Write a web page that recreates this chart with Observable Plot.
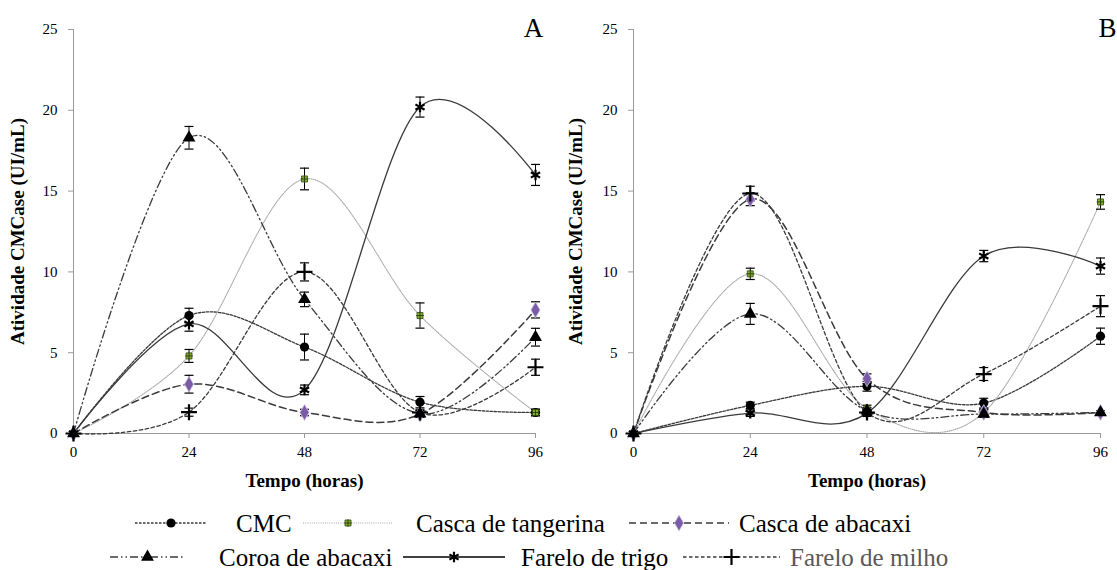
<!DOCTYPE html>
<html>
<head>
<meta charset="utf-8">
<script src="https://cdn.jsdelivr.net/npm/d3@7"></script>
<script src="https://cdn.jsdelivr.net/npm/@observablehq/plot@0.6"></script>
<style>
  html, body { margin: 0; padding: 0; background: #fff; }
  #wrap { position: relative; width: 1117px; height: 570px; overflow: hidden; }
  #a { position: absolute; left: 0; top: 0; }
  #b { position: absolute; left: 558px; top: 0; }
  #legend { position: absolute; left: 0; top: 495px; }
  #wrap svg, #wrap svg text { font-family: "Liberation Serif", "Times New Roman", serif !important; }
</style>
</head>
<body>
<div id="wrap">
  <div id="a"></div>
  <div id="b"></div>
  <svg id="legend" width="1117" height="75"></svg>
</div>
<script>
// ---------------- data ----------------
const hours = [0, 24, 48, 72, 96];
const yTicks = [0, 5, 10, 15, 20, 25];
const seriesNames = ["CMC", "Casca de tangerina", "Casca de abacaxi", "Coroa de abacaxi", "Farelo de trigo", "Farelo de milho"];
const xTitle = "Tempo (horas)";
const yTitle = "Atividade CMCase (UI/mL)";

// Panel A
const cmcA = [0, 7.3, 5.35, 1.94, 1.3];
const cmcAErr = [0, 0.45, 0.8, 0.35, 0.2];
const tangerinaA = [0, 4.8, 15.75, 7.3, 1.3];
const tangerinaAErr = [0, 0.4, 0.67, 0.78, 0.2];
const abacaxiA = [0, 3.05, 1.3, 1.2, 7.65];
const abacaxiAErr = [0, 0.55, 0.2, 0.2, 0.5];
const coroaA = [0, 18.3, 8.3, 1.22, 5.96];
const coroaAErr = [0, 0.7, 0.45, 0.2, 0.55];
const trigoA = [0, 6.78, 2.7, 20.2, 16.0];
const trigoAErr = [0, 0.45, 0.3, 0.62, 0.65];
const milhoA = [0, 1.32, 10.0, 1.3, 4.1];
const milhoAErr = [0, 0.25, 0.56, 0.2, 0.5];

// Panel B
const cmcB = [0, 1.74, 2.92, 1.88, 6.02];
const cmcBErr = [0, 0.2, 0.3, 0.3, 0.5];
const tangerinaB = [0, 9.88, 1.55, 1.3, 14.33];
const tangerinaBErr = [0, 0.35, 0.2, 0.2, 0.45];
const abacaxiB = [0, 14.5, 3.39, 1.3, 1.3];
const abacaxiBErr = [0, 0.4, 0.3, 0.2, 0.1];
const coroaB = [0, 7.4, 1.4, 1.2, 1.3];
const coroaBErr = [0, 0.65, 0.2, 0.2, 0.1];
const trigoB = [0, 1.26, 1.26, 10.98, 10.36];
const trigoBErr = [0, 0.2, 0.2, 0.35, 0.5];
const milhoB = [0, 14.85, 1.3, 3.68, 7.88];
const milhoBErr = [0, 0.45, 0.2, 0.4, 0.65];

// ---------------- styles ----------------
const SERIF = "Liberation Serif";
const GREEN = "#7fae2e", PURPLE = "#7a5ca6", LINE = "#3a3a3a";
const styles = [
  {stroke: LINE, width: 1.3, dash: "2.5,1.5", symbol: "circle", r: 4.6, fill: "#000", mstroke: "none"},
  {stroke: "#a8a8a8", width: 1.1, dash: "1,1.2", symbol: "square", r: 3.4, fill: GREEN, mstroke: "#334a10", plus: true},
  {stroke: LINE, width: 1.5, dash: "7,4", symbol: "diamond", r: 4.8, fill: PURPLE, mstroke: "#cfc4e4"},
  {stroke: LINE, width: 1.3, dash: "8,3,1.5,3,1.5,3", symbol: "triangle", r: 4.8, fill: "#000", mstroke: "none"},
  {stroke: LINE, width: 1.3, dash: null, symbol: "asterisk", r: 5, fill: "none", mstroke: "#000", msw: 2.2},
  {stroke: LINE, width: 1.3, dash: "3.5,2.5", symbol: "plus", r: 5.2, fill: "none", mstroke: "#000", msw: 2.2}
];

const capSymbol = {
  draw(context, size) {
    const w = Math.sqrt(size / Math.PI);
    context.moveTo(-w, 0);
    context.lineTo(w, 0);
  }
};

function buildRows(values, errors) {
  return values.map((vals, i) => vals.map((v, j) => ({series: seriesNames[i], t: hours[j], v, e: errors[i][j]})));
}

function panel(values, errors, letter, letterDx, width, ml, mr) {
  const groups = buildRows(values, errors);
  const marks = [
    Plot.ruleX([0], {stroke: "#9a9a9a"}),
    Plot.ruleY([0], {stroke: "#9a9a9a"}),
    Plot.axisY({ticks: yTicks, tickSize: 5, tickPadding: 11, stroke: "#9a9a9a", fill: "#000", fontSize: 15, fontFamily: SERIF, label: null}),
    Plot.axisX({ticks: hours, tickSize: 5, tickPadding: 8, stroke: "#9a9a9a", fill: "#000", fontSize: 15, fontFamily: SERIF, label: null}),
    Plot.text([yTitle], {frameAnchor: "left", rotate: -90, dx: -ml + 17, fontWeight: "bold", fontSize: 19, fontFamily: SERIF, textAnchor: "middle", lineAnchor: "middle"}),
    Plot.text([xTitle], {frameAnchor: "bottom", dy: 47, fontWeight: "bold", fontSize: 19, fontFamily: SERIF, lineAnchor: "middle"}),
    Plot.text([letter], {frameAnchor: "top-right", textAnchor: "middle", lineAnchor: "bottom", dx: letterDx, dy: 7, fontSize: 27, fontFamily: SERIF})
  ];
  groups.forEach((rows, i) => {
    const s = styles[i];
    marks.push(Plot.line(rows, {x: "t", y: "v", curve: "cardinal", tension: 0, stroke: s.stroke, strokeWidth: s.width, strokeDasharray: s.dash || undefined}));
  });
  groups.forEach((rows) => {
    const er = rows.filter(d => d.e > 0);
    marks.push(Plot.ruleX(er, {x: "t", y1: d => d.v - d.e, y2: d => d.v + d.e, stroke: "#000", strokeWidth: 1}));
    marks.push(Plot.dot(er, {x: "t", y: d => d.v + d.e, symbol: capSymbol, r: 4.5, stroke: "#000", strokeWidth: 1.2, fill: "none"}));
    marks.push(Plot.dot(er, {x: "t", y: d => d.v - d.e, symbol: capSymbol, r: 4.5, stroke: "#000", strokeWidth: 1.2, fill: "none"}));
  });
  groups.forEach((rows, i) => {
    const s = styles[i];
    marks.push(Plot.dot(rows, {x: "t", y: "v", symbol: s.symbol, r: s.r, fill: s.fill, stroke: s.mstroke, strokeWidth: s.msw || 0.8}));
    if (s.plus) marks.push(Plot.dot(rows, {x: "t", y: "v", symbol: "plus", r: 2.6, stroke: "#2a3a0c", strokeWidth: 0.9}));
  });
  return Plot.plot({
    width, height: 495,
    marginLeft: ml, marginRight: mr, marginTop: 29, marginBottom: 62,
    x: {domain: [0, 96]},
    y: {domain: [0, 25]},
    style: {fontFamily: SERIF, color: "#000", background: "transparent", overflow: "visible"},
    marks
  });
}

document.getElementById("a").appendChild(panel(
  [cmcA, tangerinaA, abacaxiA, coroaA, trigoA, milhoA],
  [cmcAErr, tangerinaAErr, abacaxiAErr, coroaAErr, trigoAErr, milhoAErr],
  "A", -2, 558, 73, 23));
document.getElementById("b").appendChild(panel(
  [cmcB, tangerinaB, abacaxiB, coroaB, trigoB, milhoB],
  [cmcBErr, tangerinaBErr, abacaxiBErr, coroaBErr, trigoBErr, milhoBErr],
  "B", 7, 559, 75, 17));

// ---------------- legend ----------------
const legendLayout = [
  {row: 0, x1: 135, x2: 207, tx: 236},
  {row: 0, x1: 303, x2: 393, tx: 416},
  {row: 0, x1: 629, x2: 729, tx: 739},
  {row: 1, x1: 110, x2: 185, tx: 219},
  {row: 1, x1: 403, x2: 505, tx: 521},
  {row: 1, x1: 683, x2: 780, tx: 790}
];
const rowY = [28, 62];
const symMap = {circle: d3.symbolCircle, square: d3.symbolSquare, diamond: d3.symbolDiamond, triangle: d3.symbolTriangle, asterisk: d3.symbolAsterisk, plus: d3.symbolPlus};
const lg = d3.select("#legend");
seriesNames.forEach((name, i) => {
  const s = styles[i], L = legendLayout[i], y = rowY[L.row];
  const legendStroke = i === 4 ? "#000" : s.stroke;
  lg.append("line").attr("x1", L.x1).attr("x2", L.x2).attr("y1", y).attr("y2", y)
    .attr("stroke", legendStroke).attr("stroke-width", i === 4 ? 1.6 : s.width)
    .attr("stroke-dasharray", s.dash || null);
  const cx = (L.x1 + L.x2) / 2;
  lg.append("path").attr("transform", `translate(${cx},${y})`)
    .attr("d", d3.symbol().type(symMap[s.symbol]).size(Math.PI * s.r * s.r)())
    .attr("fill", s.fill).attr("stroke", s.mstroke).attr("stroke-width", s.msw || 0.8);
  if (s.plus) lg.append("path").attr("transform", `translate(${cx},${y})`)
    .attr("d", d3.symbol().type(d3.symbolPlus).size(Math.PI * 2.6 * 2.6)())
    .attr("fill", "none").attr("stroke", "#2a3a0c").attr("stroke-width", 0.9);
  lg.append("text").attr("x", L.tx).attr("y", y).attr("dy", "0.35em")
    .attr("font-family", SERIF).attr("font-size", 25)
    .attr("fill", i === 5 ? "#595959" : "#000").text(name);
});
</script>
</body>
</html>
